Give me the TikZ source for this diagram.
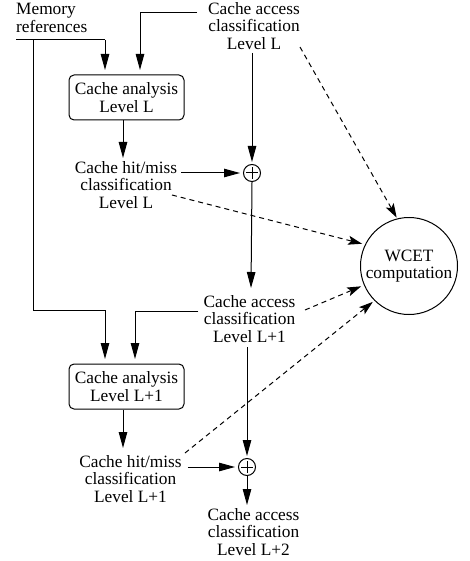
\documentclass[tikz,border=0pt]{standalone}
\usepackage{fontspec}
\setmainfont{Liberation Serif}
\usetikzlibrary{arrows.meta,calc}
\begin{document}
\begin{tikzpicture}[x=1pt,y=-1pt,
  every node/.style={font=\fontsize{17.3}{17.6}\selectfont, inner sep=0pt, align=center},
  abox/.style={draw, rounded corners=5pt, minimum width=115pt, minimum height=45pt, line width=1pt},
  plusnode/.style={draw, circle, minimum size=17pt, line width=1pt,
    path picture={\draw[line width=1pt] ([xshift=-6pt]path picture bounding box.center) -- ([xshift=6pt]path picture bounding box.center);
                  \draw[line width=1pt] ([yshift=-6pt]path picture bounding box.center) -- ([yshift=6pt]path picture bounding box.center);}},
  wnode/.style={draw, circle, minimum size=97pt, line width=1pt},
  arr/.style={line width=1pt, -{Triangle[length=16pt,width=8.5pt]}},
  ln/.style={line width=1pt},
  darr/.style={line width=1pt, dash pattern=on 5pt off 4pt, -{Stealth[length=14pt,width=9pt,inset=3pt]}}
]
\useasboundingbox (0,0) rectangle (470,561);

\node[anchor=north west, align=left] (mem) at (16,3) {Memory\\references};
\node (accL) at (254,26) {Cache access\\classification\\Level L};
\node[abox] (box1) at (126.5,97.5) {Cache analysis\\Level L};
\node (hmL) at (126,185) {Cache hit/miss\\classification\\Level L};
\node[plusnode] (p1) at (252,173) {};
\node (accL1) at (249.5,319) {Cache access\\classification\\Level L+1};
\node[abox] (box2) at (126.5,386.5) {Cache analysis\\Level L+1};
\node (hmL1) at (130.5,479) {Cache hit/miss\\classification\\Level L+1};
\node[plusnode] (p2) at (247,467) {};
\node (accL2) at (253.5,532) {Cache access\\classification\\Level L+2};
\node[wnode] (wcet) at (409,266) {WCET\\computation};

% coordinates for bends
\coordinate (m0) at (16,40);
\coordinate (m1) at (105,40);
\coordinate (m2) at (105,70);
\coordinate (mv) at (33,40);
\coordinate (mv1) at (33,310);
\coordinate (mv2) at (105,310);
\coordinate (mv3) at (105,359);
\coordinate (a0) at (197,13);
\coordinate (a1) at (140,13);
\coordinate (a2) at (140,70);
\coordinate (b0) at (135,311);
\coordinate (b1) at (135,359);

% memory references
\draw[ln] (m0) -- (m1);
\draw[arr] (m1) -- (m2);
\draw[ln] (mv) -- (mv1) -- (mv2);
\draw[arr] (mv2) -- (mv3);

% access L to box1
\draw[arr] (a0) -- (a1) -- (a2);
% box1 to hit/miss L
\draw[arr] (box1.south -| 123,0) -- (123,158);
% hit/miss L to plus
\draw[arr, shorten >=3pt] (hmL.east |- p1) ++(4,0) -- (p1.west);
% access L to plus
\draw[arr, shorten >=2pt] (252,53) -- (p1.north);
% plus to access L+1
\draw[arr] (p1.south) -- (251,288);

% access L+1 to box2
\draw[arr] ($(accL1.west |- b0)+(-5,0)$) -- (b0) -- (b1);
% box2 to hit/miss L+1
\draw[arr] (box2.south -| 123,0) -- (123,448);
% hit/miss L+1 to plus2
\draw[arr, shorten >=3pt] (hmL1.east |- p2) ++(6,0) -- (p2.west);
% access L+1 to plus2
\draw[arr, shorten >=2pt] (247,347) -- (p2.north);
% plus2 to L+2
\draw[arr] (p2.south) -- (247,505);

% dashed arrows
\draw[darr, shorten >=1pt] (300,47) -- (wcet.104);
\draw[darr, shorten >=3pt] (172,195) -- (wcet.154);
\draw[darr, shorten >=3pt] (305,310) -- (wcet.203);
\draw[darr, shorten >=2pt] (185,453) -- (wcet.225);
\end{tikzpicture}
\end{document}
